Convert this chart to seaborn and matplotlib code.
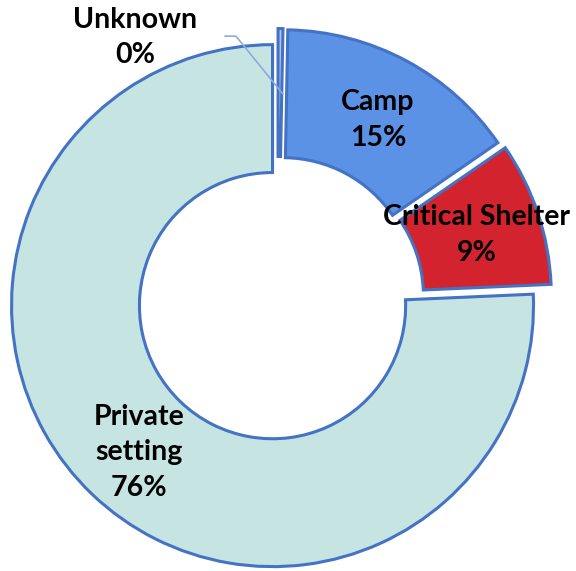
import matplotlib
matplotlib.use("Agg")
import matplotlib.pyplot as plt
import seaborn as sns

# shares of the donut, clockwise from 12 o'clock
categories = ["Unknown", "Camp", "Critical Shelter", "Private setting"]
shares = [0.3, 15.1, 8.9, 75.7]
pct_labels = ["0%", "15%", "9%", "76%"]
display_names = ["Unknown", "Camp", "Critical Shelter", "Private\nsetting"]

colors = ["#B4C7E7", "#5B92E5", "#D2232F", "#C5E4E2"]
explode = [0.04, 0.04, 0.05, 0.03]

sns.set_style("white")
plt.rcParams["font.family"] = ["Lato", "DejaVu Sans"]

fig = plt.figure(figsize=(5.76, 5.71), dpi=100)
ax = fig.add_axes([0, 0, 1, 1])

wedges, _ = ax.pie(
    shares,
    colors=colors,
    explode=explode,
    startangle=90,
    counterclock=False,
    radius=1.0,
    wedgeprops=dict(width=0.49, edgecolor="#4472C4", linewidth=2.2),
)

ax.set_aspect("equal")
ax.set_xlim(-1.065, 1.142)
ax.set_ylim(-1.038, 1.149)
ax.axis("off")

label_pos = [(-0.548, 1.006), (0.383, 0.690), (0.762, 0.249), (-0.533, -0.583)]
for name, pct, (x, y) in zip(display_names, pct_labels, label_pos):
    ax.text(x, y, name + "\n" + pct, ha="center", va="center",
            fontsize=20.5, fontweight="bold", color="black", linespacing=1.45)

# leader line for the tiny "Unknown" slice
ax.plot([-0.203, -0.161, 0.019], [1.011, 1.011, 0.789],
        color="#8FAADC", linewidth=1.2)

fig.savefig("out.png", dpi=100)
